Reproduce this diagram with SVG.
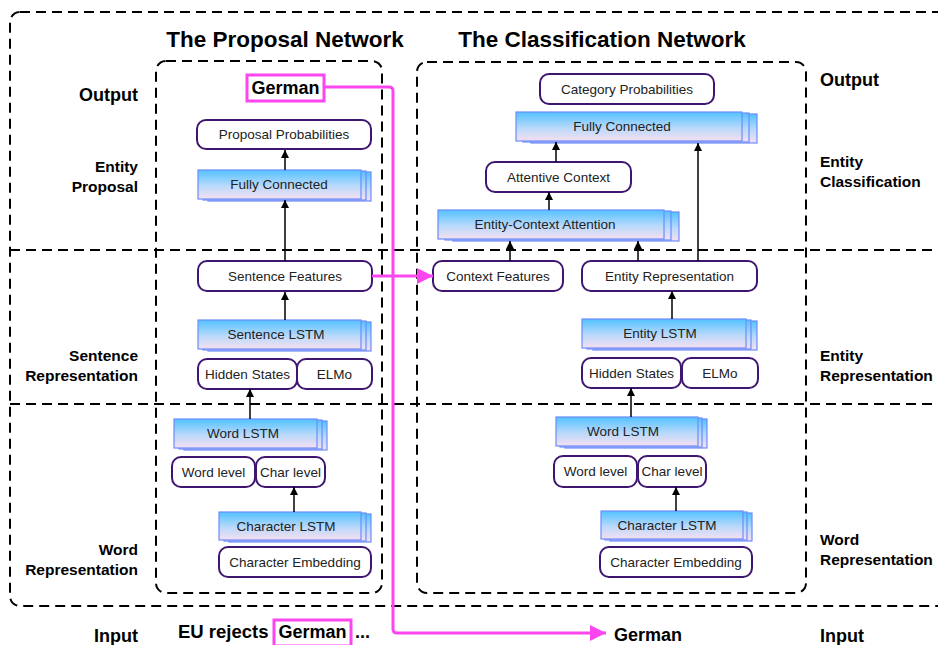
<svg xmlns="http://www.w3.org/2000/svg" width="938" height="645" viewBox="0 0 938 645">
<defs>
<linearGradient id="lg" x1="0" y1="0" x2="0" y2="1">
<stop offset="0" stop-color="#52c2ff"/>
<stop offset="0.55" stop-color="#b9d9fb"/>
<stop offset="1" stop-color="#f6dff0"/>
</linearGradient>
<marker id="ah" viewBox="0 0 10 10" refX="10" refY="5" markerWidth="8" markerHeight="9" markerUnits="userSpaceOnUse" orient="auto">
<path d="M0,0 L10,5 L0,10 z" fill="#000"/>
</marker>
<marker id="mh" viewBox="0 0 10 10" refX="10" refY="5" markerWidth="18" markerHeight="16" markerUnits="userSpaceOnUse" orient="auto">
<path d="M0,0 L10,5 L0,10 z" fill="#fb46ef"/>
</marker>
</defs>
<style>
.dash{fill:none;stroke:#000;stroke-width:2;stroke-dasharray:10 6}
.nd{fill:#fff;stroke:#3e1670;stroke-width:2}
.ls{fill:url(#lg);stroke:#6b8cfb;stroke-width:1.2}
.t{font-family:"Liberation Sans",Arial,sans-serif;font-size:13.5px;fill:#222;text-anchor:middle;dominant-baseline:central}
.ttl{font-family:"Liberation Sans",Arial,sans-serif;font-size:22.5px;font-weight:bold;fill:#000;text-anchor:middle;dominant-baseline:central}
.lb{font-family:"Liberation Sans",Arial,sans-serif;font-size:15.5px;font-weight:bold;fill:#000}
.lbb{font-family:"Liberation Sans",Arial,sans-serif;font-size:18px;font-weight:bold;fill:#000}
.ar{stroke:#000;stroke-width:1.5;fill:none;marker-end:url(#ah)}
.mg{stroke:#fb46ef;stroke-width:3;fill:none}
</style>
<rect width="938" height="645" fill="#fff"/>

<g id="frames">
<rect class="dash" x="10" y="12" width="980" height="594" rx="10"/>
<line class="dash" x1="10" y1="250" x2="938" y2="250"/>
<line class="dash" x1="10" y1="404" x2="938" y2="404"/>
<rect class="dash" x="156" y="61" width="226" height="532" rx="10"/>
<rect class="dash" x="417" y="62" width="389" height="531" rx="10"/>
</g>

<g id="labels">
<text class="ttl" x="285" y="39">The Proposal Network</text>
<text class="ttl" x="602" y="39">The Classification Network</text>
<text class="lbb" x="138" y="101" text-anchor="end">Output</text>
<text class="lb" x="138" y="172" text-anchor="end">Entity</text>
<text class="lb" x="138" y="192" text-anchor="end">Proposal</text>
<text class="lb" x="138" y="361" text-anchor="end">Sentence</text>
<text class="lb" x="138" y="381" text-anchor="end">Representation</text>
<text class="lb" x="138" y="555" text-anchor="end">Word</text>
<text class="lb" x="138" y="575" text-anchor="end">Representation</text>
<text class="lbb" x="138" y="642" text-anchor="end">Input</text>
<text class="lbb" x="820" y="86">Output</text>
<text class="lb" x="820" y="167">Entity</text>
<text class="lb" x="820" y="187">Classification</text>
<text class="lb" x="820" y="361">Entity</text>
<text class="lb" x="820" y="381">Representation</text>
<text class="lb" x="820" y="545">Word</text>
<text class="lb" x="820" y="565">Representation</text>
<text class="lbb" x="820" y="642">Input</text>
<text class="lbb" x="178" y="638" style="font-size:18.5px">EU rejects</text>
<text class="lbb" x="355" y="638">...</text>
<text class="lbb" x="614" y="641">German</text>
</g>

<g id="p-german"><rect x="247" y="75" width="77" height="26" fill="#fff" stroke="#fb46ef" stroke-width="3"/><text class="lbb" x="285.5" y="94" text-anchor="middle">German</text></g>
<g id="in-german"><rect x="274" y="620" width="77" height="26" fill="none" stroke="#fb46ef" stroke-width="3"/><text class="lbb" x="312.5" y="638" text-anchor="middle">German</text></g>

<g id="p-prob"><rect class="nd" x="197" y="120" width="174" height="29" rx="9"/><text class="t" x="284" y="134.5">Proposal Probabilities</text></g>
<g id="p-fc"><rect class="ls" x="208" y="172" width="163" height="29"/><rect class="ls" x="203" y="171" width="163" height="29"/><rect class="ls" x="198" y="170" width="163" height="29"/><text class="t" x="279" y="184.5">Fully Connected</text></g>
<g id="p-sf"><rect class="nd" x="198" y="261" width="174" height="30" rx="9"/><text class="t" x="285" y="276">Sentence Features</text></g>
<g id="p-slstm"><rect class="ls" x="208" y="322" width="163" height="29"/><rect class="ls" x="203" y="321" width="163" height="29"/><rect class="ls" x="198" y="320" width="163" height="29"/><text class="t" x="276" y="334.5">Sentence LSTM</text></g>
<g id="p-hs"><rect class="nd" x="198" y="359" width="99" height="30" rx="9"/><text class="t" x="247.5" y="374">Hidden States</text></g>
<g id="p-elmo"><rect class="nd" x="297" y="359" width="75" height="30" rx="9"/><text class="t" x="334.5" y="374">ELMo</text></g>
<g id="p-wlstm"><rect class="ls" x="184" y="421" width="143" height="29"/><rect class="ls" x="179" y="420" width="143" height="29"/><rect class="ls" x="174" y="419" width="143" height="29"/><text class="t" x="243" y="433.5">Word LSTM</text></g>
<g id="p-wl"><rect class="nd" x="172" y="457" width="83" height="30" rx="9"/><text class="t" x="213.5" y="472">Word level</text></g>
<g id="p-cl"><rect class="nd" x="256" y="457" width="69" height="30" rx="9"/><text class="t" x="290.5" y="472">Char level</text></g>
<g id="p-clstm"><rect class="ls" x="229" y="514" width="142" height="28"/><rect class="ls" x="224" y="513" width="142" height="28"/><rect class="ls" x="219" y="512" width="142" height="28"/><text class="t" x="286" y="526">Character LSTM</text></g>
<g id="p-ce"><rect class="nd" x="219" y="547" width="152" height="30" rx="9"/><text class="t" x="295" y="562">Character Embedding</text></g>

<g id="c-prob"><rect class="nd" x="540" y="74" width="174" height="30" rx="9"/><text class="t" x="627" y="89">Category Probabilities</text></g>
<g id="c-fc"><rect class="ls" x="531" y="114" width="226" height="29"/><rect class="ls" x="523" y="113" width="226" height="29"/><rect class="ls" x="516" y="112" width="226" height="29"/><text class="t" x="622" y="126.5">Fully Connected</text></g>
<g id="c-ac"><rect class="nd" x="486" y="162" width="145" height="30" rx="9"/><text class="t" x="558.5" y="177">Attentive Context</text></g>
<g id="c-eca"><rect class="ls" x="453" y="212" width="226" height="29"/><rect class="ls" x="445" y="211" width="226" height="29"/><rect class="ls" x="438" y="210" width="226" height="29"/><text class="t" x="545" y="224.5">Entity-Context Attention</text></g>
<g id="c-cf"><rect class="nd" x="433" y="261" width="130" height="30" rx="9"/><text class="t" x="498" y="276">Context Features</text></g>
<g id="c-er"><rect class="nd" x="582" y="261" width="175" height="30" rx="9"/><text class="t" x="669.5" y="276">Entity Representation</text></g>
<g id="c-elstm"><rect class="ls" x="593" y="321" width="164" height="29"/><rect class="ls" x="587" y="320" width="164" height="29"/><rect class="ls" x="582" y="319" width="164" height="29"/><text class="t" x="660" y="333.5">Entity LSTM</text></g>
<g id="c-hs"><rect class="nd" x="582" y="358" width="99" height="30" rx="9"/><text class="t" x="631.5" y="373">Hidden States</text></g>
<g id="c-elmo"><rect class="nd" x="682" y="358" width="76" height="30" rx="9"/><text class="t" x="720" y="373">ELMo</text></g>
<g id="c-wlstm"><rect class="ls" x="565" y="419" width="142" height="29"/><rect class="ls" x="560" y="418" width="142" height="29"/><rect class="ls" x="556" y="417" width="142" height="29"/><text class="t" x="623" y="431.5">Word LSTM</text></g>
<g id="c-wl"><rect class="nd" x="554" y="456" width="83" height="31" rx="9"/><text class="t" x="595.5" y="471.5">Word level</text></g>
<g id="c-cl"><rect class="nd" x="638" y="456" width="68" height="31" rx="9"/><text class="t" x="672" y="471.5">Char level</text></g>
<g id="c-clstm"><rect class="ls" x="610" y="513" width="142" height="28"/><rect class="ls" x="605" y="512" width="142" height="28"/><rect class="ls" x="601" y="511" width="142" height="28"/><text class="t" x="667" y="525">Character LSTM</text></g>
<g id="c-ce"><rect class="nd" x="600" y="547" width="152" height="30" rx="9"/><text class="t" x="676" y="562">Character Embedding</text></g>

<g id="connectors">
<line class="ar" x1="285" y1="170" x2="285" y2="150"/>
<line class="ar" x1="285" y1="261" x2="285" y2="200"/>
<line class="ar" x1="285" y1="320" x2="285" y2="292"/>
<line class="ar" x1="250" y1="419" x2="250" y2="389"/>
<line class="ar" x1="294" y1="512" x2="294" y2="487"/>
<line class="ar" x1="556" y1="162" x2="556" y2="142"/>
<line class="ar" x1="549" y1="210" x2="549" y2="192"/>
<line class="ar" x1="510" y1="261" x2="510" y2="241"/>
<line class="ar" x1="638" y1="261" x2="638" y2="241"/>
<line class="ar" x1="698" y1="261" x2="698" y2="143"/>
<line class="ar" x1="672" y1="319" x2="672" y2="291"/>
<line class="ar" x1="631" y1="417" x2="631" y2="388"/>
<line class="ar" x1="676" y1="511" x2="676" y2="487"/>
<path class="mg" d="M324,87 H389 Q393,87 393,91 V629 Q393,633 397,633 H606" marker-end="url(#mh)"/>
<path class="mg" d="M372,276 H433" marker-end="url(#mh)"/>
</g>
</svg>
